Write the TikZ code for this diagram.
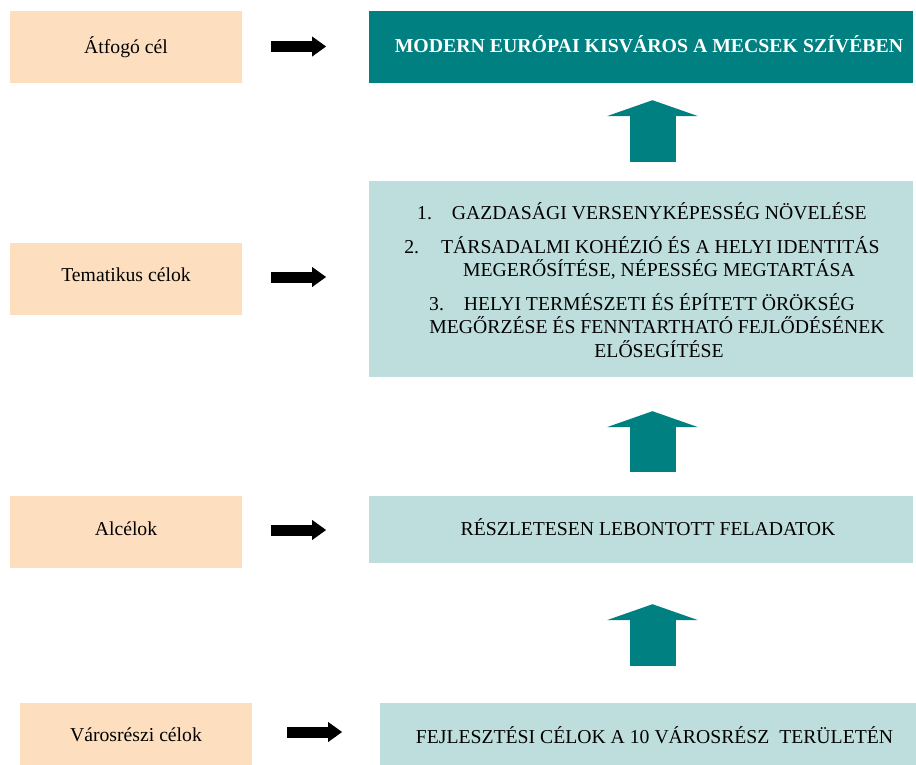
\documentclass[tikz,border=0pt]{standalone}
\usepackage{fontspec}
\setmainfont{Liberation Serif}
\usetikzlibrary{arrows.meta,calc}
\definecolor{peach}{HTML}{FDDFC0}
\definecolor{tealdk}{HTML}{008080}
\definecolor{teallt}{HTML}{BEDEDD}
\begin{document}
\begin{tikzpicture}[x=1pt,y=-1pt,
  font=\fontsize{19.7}{23.5}\selectfont,
  lbl/.style={fill=peach, minimum width=232pt, minimum height=72pt, inner sep=0pt},
  dk/.style={fill=tealdk, text=white, font=\fontsize{19.8}{23.5}\selectfont\bfseries, minimum width=544pt, minimum height=72pt, inner sep=0pt},
  lt/.style={fill=teallt, minimum width=544pt, inner sep=0pt},
  txt/.style={inner sep=0pt},
  blk/.style={line width=11pt, -{Triangle[length=14pt,width=19pt]}},
  upar/.style={draw=tealdk, line width=46pt, -{Triangle[length=16pt,width=91pt,fill=tealdk]}}]
\useasboundingbox (0,0) rectangle (916,764);
\clip (0,0) rectangle (916,764);
% left labels
\node[lbl] (L1) at (126,47) {};
\node[txt] (L1t) at (126,47) {Átfogó cél};
\node[lbl] (L2) at (126,279) {};
\node[txt] (L2t) at (126,275) {Tematikus célok};
\node[lbl] (L3) at (126,532) {};
\node[txt] (L3t) at (126,528.5) {Alcélok};
\node[lbl, minimum height=66pt] (L4) at (136,736) {};
\node[txt] (L4t) at (136,735) {Városrészi célok};
% right boxes
\node[dk] (T1) at (641,47) {};
\node[txt, text=white, font=\fontsize{19.8}{23.5}\selectfont\bfseries] (T1t) at (649,44) {MODERN EURÓPAI KISVÁROS A MECSEK SZÍVÉBEN};
\node[lt, minimum height=196pt] (T2) at (641,279) {};
\node[align=center, txt] (T2t) at (642,280) {1.\hspace{20pt}GAZDASÁGI VERSENYKÉPESSÉG NÖVELÉSE\\[10pt]
2.\hspace{22pt}TÁRSADALMI KOHÉZIÓ ÉS A HELYI IDENTITÁS\\
\hspace*{34pt}MEGERŐSÍTÉSE, NÉPESSÉG MEGTARTÁSA\\[10pt]
3.\hspace{20pt}HELYI TERMÉSZETI ÉS ÉPÍTETT ÖRÖKSÉG\\
\hspace*{30pt}MEGŐRZÉSE ÉS FENNTARTHATÓ FEJLŐDÉSÉNEK\\
\hspace*{34pt}ELŐSEGÍTÉSE};
\node[lt, minimum height=67pt] (T3) at (641,529.5) {};
\node[txt] (T3t) at (648,527.5) {RÉSZLETESEN LEBONTOTT FELADATOK};
\node[lt, minimum width=550pt, minimum height=66pt] (T4) at (655,736) {};
\node[txt] (T4t) at (654.5,735) {FEJLESZTÉSI CÉLOK A 10 VÁROSRÉSZ\ \ TERÜLETÉN};
% black arrows
\draw[blk] ($(L1.east)+(29,-0.5)$) -- ($(L1.east)+(84,-0.5)$);
\draw[blk] ($(L2.east)+(29,-2)$) -- ($(L2.east)+(84,-2)$);
\draw[blk] ($(L3.east)+(29,-2)$) -- ($(L3.east)+(84,-2)$);
\draw[blk] ($(L4.east)+(35,-4)$) -- ($(L4.east)+(90,-4)$);
% teal up arrows
\draw[upar] ($(T2.north)+(11.5,-19)$) -- ($(T1.south)+(11.5,17)$);
\draw[upar] ($(T3.north)+(11.5,-24)$) -- ($(T2.south)+(11.5,34)$);
\draw[upar] ($(T4.north)+(-2.5,-37)$) -- ($(T3.south)+(11.5,41)$);
\end{tikzpicture}
\end{document}
